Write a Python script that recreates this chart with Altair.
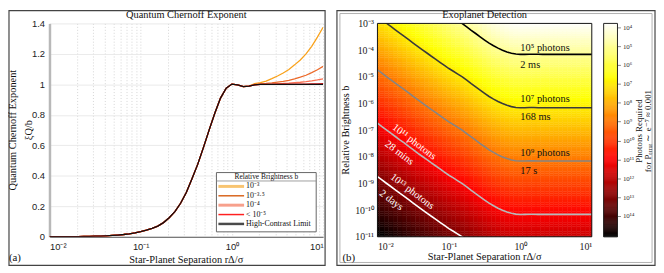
import math
import altair as alt
import pandas as pd

alt.data_transformers.disable_max_rows()

SERIF = "Liberation Serif"
SANS = "Liberation Sans"

# ---------------- data ----------------
# star-planet separation grid (log10 r), 1/16 decade steps
LOG_R = [round(-2 + i / 16, 4) for i in range(49)]
# high-contrast-limit quantum Chernoff exponent xi_Q/b
F_HC = [0.00038, 0.00051, 0.00068, 0.0009, 0.0012, 0.0016, 0.0021, 0.0028,
        0.00375, 0.005, 0.0066, 0.0087, 0.0115, 0.015, 0.0198, 0.026,
        0.034, 0.043, 0.055, 0.07, 0.093, 0.125, 0.165, 0.22,
        0.29, 0.38, 0.475, 0.585, 0.70, 0.81, 0.91, 0.975,
        1.002, 0.997, 0.985, 0.988, 0.997, 1.0, 1.0, 1.0,
        1.0, 1.0, 1.0, 1.0, 1.0, 1.0, 1.0, 1.0, 1.0]
# tails (log10 r = 0.25 ... 1.0) for each relative brightness
TAIL_3 = [1.005, 1.012, 1.022, 1.038, 1.055, 1.075, 1.098, 1.128, 1.16, 1.20, 1.25, 1.31, 1.375]
TAIL_35 = [1.0, 1.003, 1.006, 1.01, 1.015, 1.02, 1.027, 1.036, 1.047, 1.06, 1.077, 1.096, 1.118]
TAIL_4 = [0.997, 1.0, 1.002, 1.003, 1.005, 1.006, 1.008, 1.011, 1.014, 1.018, 1.023, 1.029, 1.036]
TAIL_5 = [0.997, 1.0, 1.0, 1.0, 1.0, 1.001, 1.001, 1.001, 1.002, 1.002, 1.003, 1.003, 1.004]
TAIL_HC = [0.997, 1.0, 1.0, 1.0, 1.0, 1.0, 1.0, 1.0, 1.0, 1.0, 1.0, 1.0, 1.0]

SERIES = ["10⁻³", "10⁻³·⁵", "10⁻⁴", "< 10⁻⁵", "High-Contrast Limit"]
LINE_COLORS = ["#f9a21b", "#ec6a2a", "#fa7052", "#e8161b", "#111111"]
LEG_COLORS = ["#f8c471", "#d9651e", "#f7a08c", "#ff2020", "#4a4a4a"]
LEG_WIDTHS = [3, 1.5, 3, 1.5, 2.5]

# heat map rows (log10 b)
LOG_B = [round(-11 + i / 12, 5) for i in range(97)]
LN_1000 = 6.908  # P_err ~ e^-7 ~ 0.001

# colour bar (log10 photons)
CB_LO, CB_HI = 3.8, 15.1
CB_TICKS = list(range(4, 15))

CONTOUR_EXP = [5, 7, 9, 11, 13]
CONTOUR_COLORS = ["#000000", "#3a3a3a", "#858585", "#b8b8b8", "#ffffff"]

LABELS_FLAT = [("10⁵ photons", 1.0, -3.93), ("2 ms", 1.0, -4.56),
               ("10⁷ photons", 1.0, -5.85), ("168 ms", 1.0, -6.52),
               ("10⁹ photons", 1.0, -7.85), ("17 s", 1.0, -8.52)]
LABELS_SLOPE = [("10¹¹ photons", -1.486, -7.44), ("28 mins", -1.694, -7.85),
                ("10¹³ photons", -1.514, -9.30), ("2 days", -1.806, -9.63)]

# ---------------- tables ----------------
tails = [TAIL_3, TAIL_35, TAIL_4, TAIL_5, TAIL_HC]
rows = []
for name, tail in zip(SERIES, tails):
    vals = F_HC[:36] + tail
    for lr, v in zip(LOG_R, vals):
        rows.append({"r": 10 ** lr, "v": v, "s": name})
line_df = pd.DataFrame(rows)

h = []
for lr, f in zip(LOG_R, F_HC):
    for lb in LOG_B:
        h.append({"r0": 10 ** (lr - 1 / 32), "r1": 10 ** (lr + 1 / 32),
                  "b0": 10 ** (lb - 1 / 24), "b1": 10 ** (lb + 1 / 24),
                  "logN": math.log10(LN_1000) - lb - math.log10(f)})
heat_df = pd.DataFrame(h)

nsteps = 226
cb_df = pd.DataFrame([{"lo": CB_LO + (CB_HI - CB_LO) * i / nsteps,
                       "hi": CB_LO + (CB_HI - CB_LO) * (i + 1) / nsteps,
                       "logN": CB_LO + (CB_HI - CB_LO) * (i + 0.5) / nsteps}
                      for i in range(nsteps)])

cont_dfs = []
for k in CONTOUR_EXP:
    cont_dfs.append(pd.DataFrame({"r0": [10 ** lr for lr in LOG_R],
                                  "b0": [LN_1000 / (10 ** k * f) for f in F_HC]}))

flat_df = pd.DataFrame([{"t": t, "r0": x, "b0": 10 ** y} for t, x, y in LABELS_FLAT])
slope_df = pd.DataFrame([{"t": t, "r0": 10 ** x, "b0": 10 ** y} for t, x, y in LABELS_SLOPE])

SUP = str.maketrans("0123456789-", "⁰¹²³⁴⁵⁶⁷⁸⁹⁻")


def sup(n):
    return "10" + str(n).translate(SUP)


MINOR = [round(m * 10 ** e, 6) for e in (-2, -1, 0) for m in range(1, 10)] + [10]
LEFT_X_EXPR = ("datum.value == 0.01 ? '10⁻²' : datum.value == 0.1 ? '10⁻¹' : "
               "datum.value == 1 ? '10⁰' : datum.value == 10 ? '10¹' : ''")
RIGHT_Y_EXPR = " : ".join(f"round(log(datum.value)/LN10) == {k} ? '{sup(k)}'"
                          for k in range(-3, -12, -1)) + " : ''"
CB_EXPR = " : ".join(f"datum.value == {k} ? '{sup(k)}'" for k in CB_TICKS) + " : ''"

ONE = alt.Data(values=[{"k": 0}])


def txt(x, y, s, size=10, font=SERIF, color="#111111", angle=0, align="center"):
    return alt.Chart(ONE).mark_text(text=s, fontSize=size, font=font, color=color,
                                    angle=angle, align=align, baseline="middle").encode(
        x=alt.value(x), y=alt.value(y))


def box(x, x2, y, y2, stroke, sw, fill="white", fo=0.0):
    return alt.Chart(ONE).mark_rect(stroke=stroke, strokeWidth=sw, fill=fill, fillOpacity=fo).encode(
        x=alt.value(x), x2=alt.value(x2), y=alt.value(y), y2=alt.value(y2))


def rule(x, x2, y, color, sw):
    return alt.Chart(ONE).mark_rule(color=color, strokeWidth=sw).encode(
        x=alt.value(x), x2=alt.value(x2), y=alt.value(y))


W1, W2, H = 277, 217, 216

# ---------------- left panel ----------------
axL_x = alt.Axis(values=MINOR, labelExpr=LEFT_X_EXPR, grid=True, gridDash=[1, 2],
                 gridColor="#c4c4c4", gridWidth=0.7, ticks=False, domainColor="#555555",
                 domainWidth=1, labelFont=SANS, labelFontSize=9.5, labelColor="#222222",
                 labelPadding=5, labelOverlap=False, title=None)
axL_y = alt.Axis(values=[0, 0.2, 0.4, 0.6, 0.8, 1.0, 1.2, 1.4], format=".1~f", grid=True,
                 gridColor="#e4e4e4", gridWidth=0.8, ticks=False, domainColor="#b8b8b8",
                 domainWidth=2.5, labelFont=SANS, labelFontSize=9.5, labelColor="#222222",
                 labelPadding=5, title=None)

lines = alt.Chart(line_df).mark_line(strokeWidth=1.3, clip=True).encode(
    x=alt.X("r:Q", scale=alt.Scale(type="log", domain=[0.01, 10]), axis=axL_x),
    y=alt.Y("v:Q", scale=alt.Scale(domain=[0, 1.4]), axis=axL_y),
    color=alt.Color("s:N", scale=alt.Scale(domain=SERIES, range=LINE_COLORS), legend=None),
)

left_layers = [box(-41, 279, -13, 245, "#444444", 1.2), lines,
               box(169, 270, 151, 211, "#666666", 1, fo=1.0),
               rule(169, 270, 159.5, "#888888", 0.8),
               txt(219.5, 155, "Relative Brightness b", size=7.5)]
for i, (name, c, w) in enumerate(zip(SERIES, LEG_COLORS, LEG_WIDTHS)):
    y = 165 + 9.5 * i
    left_layers.append(rule(171, 197, y, c, w))
    left_layers.append(txt(199, y, name, size=8, align="left"))
left_layers += [txt(138.5, -8, "Quantum Chernoff Exponent", size=10.5),
                txt(-37, 108, "Quantum Chernoff Exponent", size=10.5, angle=270),
                txt(-21, 108, "ξQ/b", size=10.5, angle=270),
                txt(138.5, 240, "Star-Planet Separation rΔ/σ", size=10.5),
                txt(-35, 238, "(a)", size=11)]
left = alt.layer(*left_layers).properties(width=W1, height=H)

# ---------------- right panel ----------------
axR_x = alt.Axis(values=[0.01, 0.1, 1, 10], labelExpr=LEFT_X_EXPR, grid=False, ticks=False,
                 domain=False, labelFont=SERIF, labelFontSize=10, labelColor="#222222",
                 labelPadding=5, title=None)
axR_y = alt.Axis(values=[10 ** -k for k in range(3, 12)], labelExpr=RIGHT_Y_EXPR, grid=False,
                 ticks=False, domain=False, labelFont=SERIF, labelFontSize=10,
                 labelColor="#222222", labelPadding=4, title=None)
xR = alt.X("r0:Q", scale=alt.Scale(type="log", domain=[0.01, 10]), axis=axR_x)
yR = alt.Y("b0:Q", scale=alt.Scale(type="log", domain=[1e-11, 1e-3]), axis=axR_y)
cscale = alt.Scale(domain=[CB_LO, 6.67, 10.98, CB_HI],
                   range=["#ffffff", "#ffff00", "#ff0000", "#000000"],
                   interpolate="rgb", clamp=True)

heat = alt.Chart(heat_df).mark_rect(clip=True, strokeWidth=0.4).encode(
    x=xR, x2="r1:Q", y=yR, y2="b1:Q",
    color=alt.Color("logN:Q", scale=cscale, legend=None),
    stroke=alt.Stroke("logN:Q", scale=cscale, legend=None),
)

inner = [heat]
for df, c in zip(cont_dfs, CONTOUR_COLORS):
    inner.append(alt.Chart(df).mark_line(color=c, strokeWidth=1.6, clip=True).encode(x=xR, y=yR))
inner.append(alt.Chart(flat_df).mark_text(font=SERIF, fontSize=10.5, color="#111111",
                                          align="left", baseline="middle").encode(
    x=xR, y=yR, text="t:N"))
inner.append(alt.Chart(slope_df).mark_text(font=SERIF, fontSize=10.5, color="#ffffff",
                                           align="center", baseline="middle", angle=37).encode(
    x=xR, y=yR, text="t:N"))
inner += [box(0, W2, 0, H, "#111111", 1),
          box(-41, 281, -13, 245, "#444444", 1.2),
          box(-38, 278, -10, 242, "#b0b0b0", 1),
          txt(108.5, -8, "Exoplanet Detection", size=10.5),
          txt(-32, 108, "Relative Brightness b", size=10.5, angle=270),
          txt(108.5, 237, "Star-Planet Separation rΔ/σ", size=10.5),
          txt(265, 109, "Photons Required", size=9, angle=270),
          txt(274, 109, "for Pₑᵣᵣₒᵣ ∼ e⁻⁷ ≈ 0.001", size=9, angle=270),
          txt(-29, 238, "(b)", size=11)]
inner_layer = alt.layer(*inner)

cbar = alt.Chart(cb_df).mark_rect(strokeWidth=0.4).encode(
    x=alt.value(229), x2=alt.value(243),
    y=alt.Y("lo:Q", scale=alt.Scale(domain=[CB_LO, CB_HI], reverse=True, nice=False, zero=False),
            axis=alt.Axis(orient="right", offset=26, values=CB_TICKS, labelExpr=CB_EXPR,
                          ticks=True, tickSize=3, tickColor="#888888", domain=False, grid=False,
                          labelFont=SERIF, labelFontSize=7, labelColor="#333333",
                          labelPadding=2, title=None)),
    y2="hi:Q",
    color=alt.Color("logN:Q", scale=cscale, legend=None),
    stroke=alt.Stroke("logN:Q", scale=cscale, legend=None),
)
cbar_layer = alt.layer(cbar, box(229, 243, 0, H, "#222222", 1))

right = alt.layer(inner_layer, cbar_layer).resolve_scale(y="independent").properties(
    width=W2, height=H)

chart = alt.hconcat(left, right, spacing=55, bounds="flush").resolve_scale(
    color="independent", stroke="independent").properties(
    padding=0, background="white").configure_view(strokeWidth=0)

chart.save("out.html", embed_options={"renderer": "svg", "actions": False})
